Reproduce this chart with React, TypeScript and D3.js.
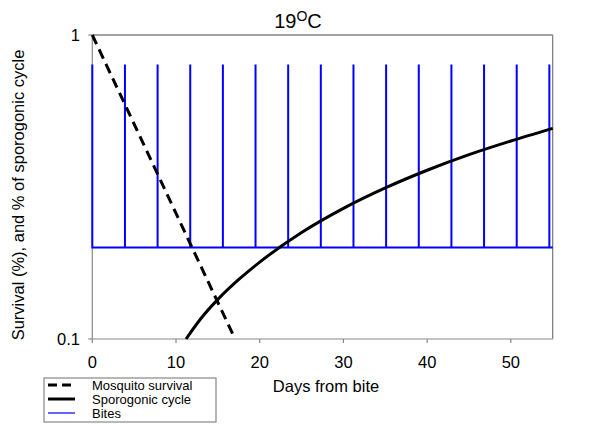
import React from "react";
import * as d3 from "d3";

// ---- data ----
const xTicks = [0, 10, 20, 30, 40, 50];
const yTicks = [0.1, 1];
const yTickLabels = ["0.1", "1"];

const survivalDays = [0, 17.05];
const survivalValues = [1, 0.1];

const sporoDays = [11.2, 13, 15, 17.5, 20, 25, 30, 35, 40, 45, 50, 55];
const sporoValues = [0.1, 0.117, 0.135, 0.157, 0.179, 0.224, 0.269, 0.314, 0.359, 0.404, 0.448, 0.493];

const biteDays = [0, 3.9, 7.8, 11.7, 15.6, 19.5, 23.4, 27.3, 31.2, 35.1, 39.0, 42.9, 46.8, 50.7, 54.6];
const biteBase = 0.2;
const bitePeak = 0.8;
const xMax = 55;

const legendItems = ["Mosquito survival", "Sporogonic cycle", "Bites"];

export default function App() {
  const W = 600, H = 424;
  const x = d3.scaleLinear().domain([0, xMax]).range([92.3, 552.7]);
  const y = d3.scaleLog().domain([0.1, 1]).range([339, 35]);
  const line = d3.line<[number, number]>().x(d => x(d[0])).y(d => y(d[1]));

  const survPts: [number, number][] = survivalDays.map((d, i) => [d, survivalValues[i]]);
  const sporoPts: [number, number][] = sporoDays.map((d, i) => [d, sporoValues[i]]);
  const bitePts: [number, number][] = [];
  biteDays.forEach(b => {
    bitePts.push([b, biteBase], [b, bitePeak], [b, biteBase]);
  });
  bitePts.push([xMax, biteBase]);

  const font = "Arial, 'Liberation Sans', sans-serif";
  const x0 = x(0), x1 = x(xMax), yTop = y(1), yBot = y(0.1);

  return (
    <svg width={W} height={H} style={{ position: "absolute", left: 0, top: 0, background: "#fff" }} fontFamily={font}>
      <rect x={0} y={0} width={W} height={H} fill="#fff" />
      {/* frame */}
      <line x1={x0} x2={x1} y1={yTop} y2={yTop} stroke="#444" strokeWidth={1.2} />
      <line x1={x1} x2={x1} y1={yTop} y2={yBot} stroke="#777" strokeWidth={1.2} />
      <line x1={x0} x2={x0} y1={yTop} y2={yBot} stroke="#888" strokeWidth={1.2} />
      <line x1={x0} x2={x1} y1={yBot} y2={yBot} stroke="#888" strokeWidth={1.2} />
      {xTicks.map(t => (
        <g key={"xt" + t}>
          <line x1={x(t)} x2={x(t)} y1={yBot} y2={yBot + 4} stroke="#888" strokeWidth={1.2} />
          <text x={x(t)} y={368} fontSize={16.5} textAnchor="middle" fill="#000">{t}</text>
        </g>
      ))}
      {yTicks.map((t, i) => (
        <g key={"yt" + t}>
          <line x1={x0 - 4} x2={x0} y1={y(t)} y2={y(t)} stroke="#888" strokeWidth={1.2} />
          <text x={80} y={y(t) + 6} fontSize={16.5} textAnchor="end" fill="#000">{yTickLabels[i]}</text>
        </g>
      ))}
      {/* bites */}
      <path d={line(bitePts) || ""} fill="none" stroke="#0000ff" strokeWidth={2} />
      {/* survival */}
      <path d={line(survPts) || ""} fill="none" stroke="#000" strokeWidth={3} strokeDasharray="10,6" />
      {/* sporogonic */}
      <path d={d3.line<[number, number]>().x(d => x(d[0])).y(d => y(d[1])).curve(d3.curveMonotoneX)(sporoPts) || ""} fill="none" stroke="#000" strokeWidth={3} />
      {/* title */}
      <text x={298} y={28} fontSize={20} textAnchor="middle" fill="#000">
        19<tspan fontSize={14} dy={-7}>O</tspan><tspan dy={7}>C</tspan>
      </text>
      {/* axis labels */}
      <text x={326} y={392} fontSize={16.5} textAnchor="middle" fill="#000">Days from bite</text>
      <text transform="translate(24,195) rotate(-90)" fontSize={16.5} textAnchor="middle" fill="#000">
        Survival (%), and % of sporogonic cycle
      </text>
      {/* legend */}
      <rect x={44} y={378} width={172} height={44} fill="#fff" stroke="#888" strokeWidth={1.2} />
      {legendItems.map((name, i) => {
        const ly = 385 + i * 14;
        return (
          <g key={name}>
            {i === 0 && <line x1={48} x2={75} y1={ly} y2={ly} stroke="#000" strokeWidth={3} strokeDasharray="9,5" />}
            {i === 1 && <line x1={48} x2={75} y1={ly} y2={ly} stroke="#000" strokeWidth={3} />}
            {i === 2 && <line x1={48} x2={75} y1={ly} y2={ly} stroke="#0000ff" strokeWidth={1.2} />}
            <text x={92} y={ly + 4.5} fontSize={13} fill="#000">{name}</text>
          </g>
        );
      })}
    </svg>
  );
}
